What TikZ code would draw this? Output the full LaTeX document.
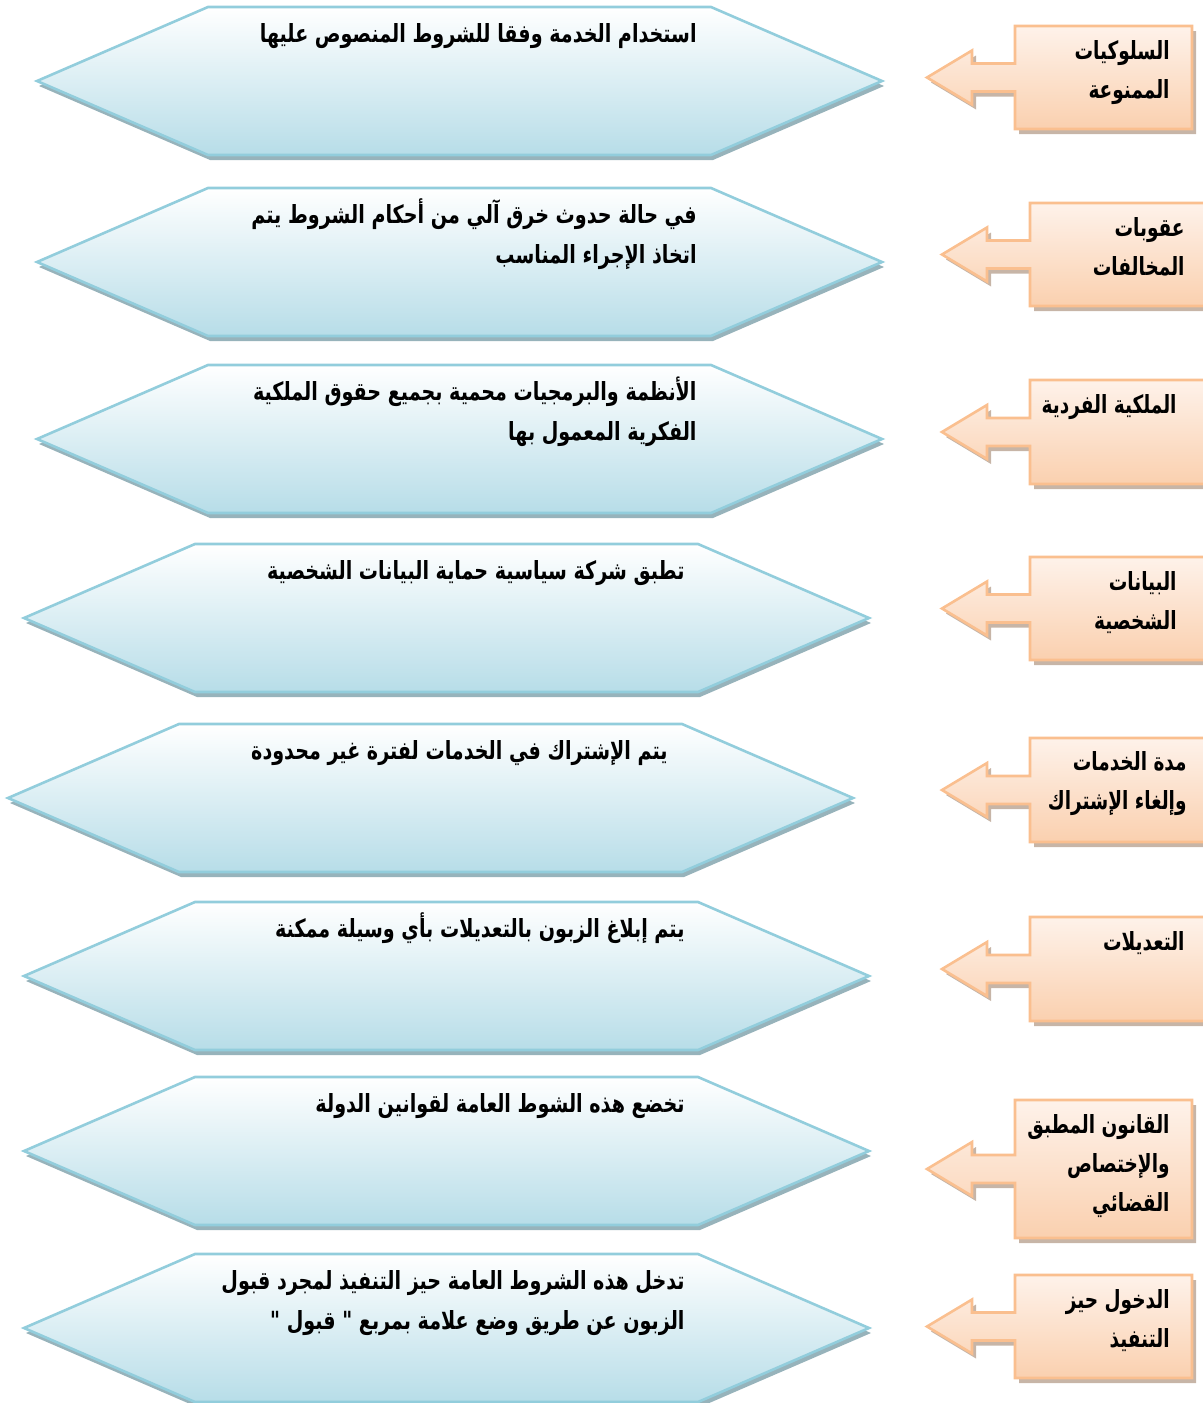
\documentclass[tikz,border=0pt]{standalone}
\usepackage{fontspec}
\newfontfamily\ar[Script=Arabic]{DejaVu Sans}
\TeXXeTstate=1
\usetikzlibrary{shadows}

\definecolor{hexfill}{RGB}{183,221,232}
\definecolor{hexline}{RGB}{146,205,220}
\definecolor{hexshade}{RGB}{125,160,170}
\definecolor{calltop}{RGB}{254,242,234}
\definecolor{callfill}{RGB}{250,208,175}
\definecolor{callline}{RGB}{250,191,143}
\definecolor{callshade}{RGB}{175,150,130}

\tikzset{
	hexbox/.style = {draw = hexline, line width = 1.3pt, top color = white, bottom color = hexfill,
		drop shadow = {shadow xshift = 1pt, shadow yshift = -2.5pt, fill = hexshade, opacity = .8}},
	callbox/.style = {draw = callline, line width = 1.3pt, top color = calltop, bottom color = callfill,
		drop shadow = {shadow xshift = 2pt, shadow yshift = -2.5pt, fill = callshade, opacity = .7}},
	ruletext/.style = {anchor = north east, align = right, inner sep = 0pt,
		font = \ar\bfseries\fontsize{12.5}{20}\selectfont},
	topictext/.style = {ruletext, font = \ar\bfseries\fontsize{12.5}{19.5}\selectfont}
}

%	one right-to-left line, squeezed a bit
\newcommand\rl[1]{\strut\scalebox{.765}[1]{\beginR #1\endR}}
\newcommand\rt[1]{\strut\scalebox{.74}[1]{\beginR #1\endR}}

%	hexagon: left tip x, top y
\newcommand\hexa[2]{%
	\path[hexbox] (#1, #2+74) -- (#1+171, #2) -- (#1+674, #2) -- (#1+845, #2+74)
		-- (#1+674, #2+148) -- (#1+171, #2+148) -- cycle;}

%	left arrow callout: box left, box top, box width, box height
\newcommand\callout[4]{%
	\path[callbox] (#1, #2) -- ++(#3, 0) -- ++(0, #4) -- (#1, #2+#4)
		-- (#1, #2+#4/2+14) -- ++(-43, 0) -- ++(0, 13) -- (#1-88, #2+#4/2)
		-- (#1-43, #2+#4/2-27) -- ++(0, 13) -- (#1, #2+#4/2-14) -- cycle;}

\begin{document}
\begin{tikzpicture}[x = 0.5pt, y = -0.5pt]
	\useasboundingbox (0, 0) rectangle (1203, 1403);
	
	%	hexagons
	\hexa{37}{7}
	\hexa{37}{188}
	\hexa{37}{365}
	\hexa{24}{544}
	\hexa{8}{724}
	\hexa{24}{902}
	\hexa{24}{1077}
	\hexa{24}{1254}
	
	%	callouts
	\callout{1015}{26}{177}{103}
	\callout{1030}{203}{177}{103}
	\callout{1030}{380}{177}{104}
	\callout{1030}{557}{177}{103}
	\callout{1030}{738}{177}{104}
	\callout{1030}{917}{177}{104}
	\callout{1015}{1100}{177}{138}
	\callout{1015}{1275}{177}{103}
	
	%	texts in the hexagons
	\node[ruletext] (rule1) at (697, 14) {\rl{استخدام الخدمة وفقا للشروط المنصوص عليها}};
	\node[ruletext] (rule2) at (697, 195) {\rl{في حالة حدوث خرق آلي من أحكام الشروط يتم}\\ \rl{اتخاذ الإجراء المناسب}};
	\node[ruletext] (rule3) at (697, 372) {\rl{الأنظمة والبرمجيات محمية بجميع حقوق الملكية}\\ \rl{الفكرية المعمول بها}};
	\node[ruletext] (rule4) at (685, 551) {\rl{تطبق شركة سياسية حماية البيانات الشخصية}};
	\node[ruletext] (rule5) at (668, 731) {\rl{يتم الإشتراك في الخدمات لفترة غير محدودة}};
	\node[ruletext] (rule6) at (685, 909) {\rl{يتم إبلاغ الزبون بالتعديلات بأي وسيلة ممكنة}};
	\node[ruletext] (rule7) at (685, 1084) {\rl{تخضع هذه الشوط العامة لقوانين الدولة}};
	\node[ruletext] (rule8) at (685, 1261) {\rl{تدخل هذه الشروط العامة حيز التنفيذ لمجرد قبول}\\ \rl{الزبون عن طريق وضع علامة بمربع " قبول "}};
	
	%	texts in the callouts
	\node[topictext] (topic1) at (1170, 32) {\rt{السلوكيات}\\ \rt{الممنوعة}};
	\node[topictext] (topic2) at (1185, 209) {\rt{عقوبات}\\ \rt{المخالفات}};
	\node[topictext] (topic3) at (1177, 386) {\rt{الملكية الفردية}};
	\node[topictext] (topic4) at (1177, 563) {\rt{البيانات}\\ \rt{الشخصية}};
	\node[topictext] (topic5) at (1187, 743) {\rt{مدة الخدمات}\\ \rt{وإلغاء الإشتراك}};
	\node[topictext] (topic6) at (1185, 923) {\rt{التعديلات}};
	\node[topictext] (topic7) at (1170, 1106) {\rt{القانون المطبق}\\ \rt{والإختصاص}\\ \rt{القضائي}};
	\node[topictext] (topic8) at (1170, 1281) {\rt{الدخول حيز}\\ \rt{التنفيذ}};
\end{tikzpicture}
\end{document}
